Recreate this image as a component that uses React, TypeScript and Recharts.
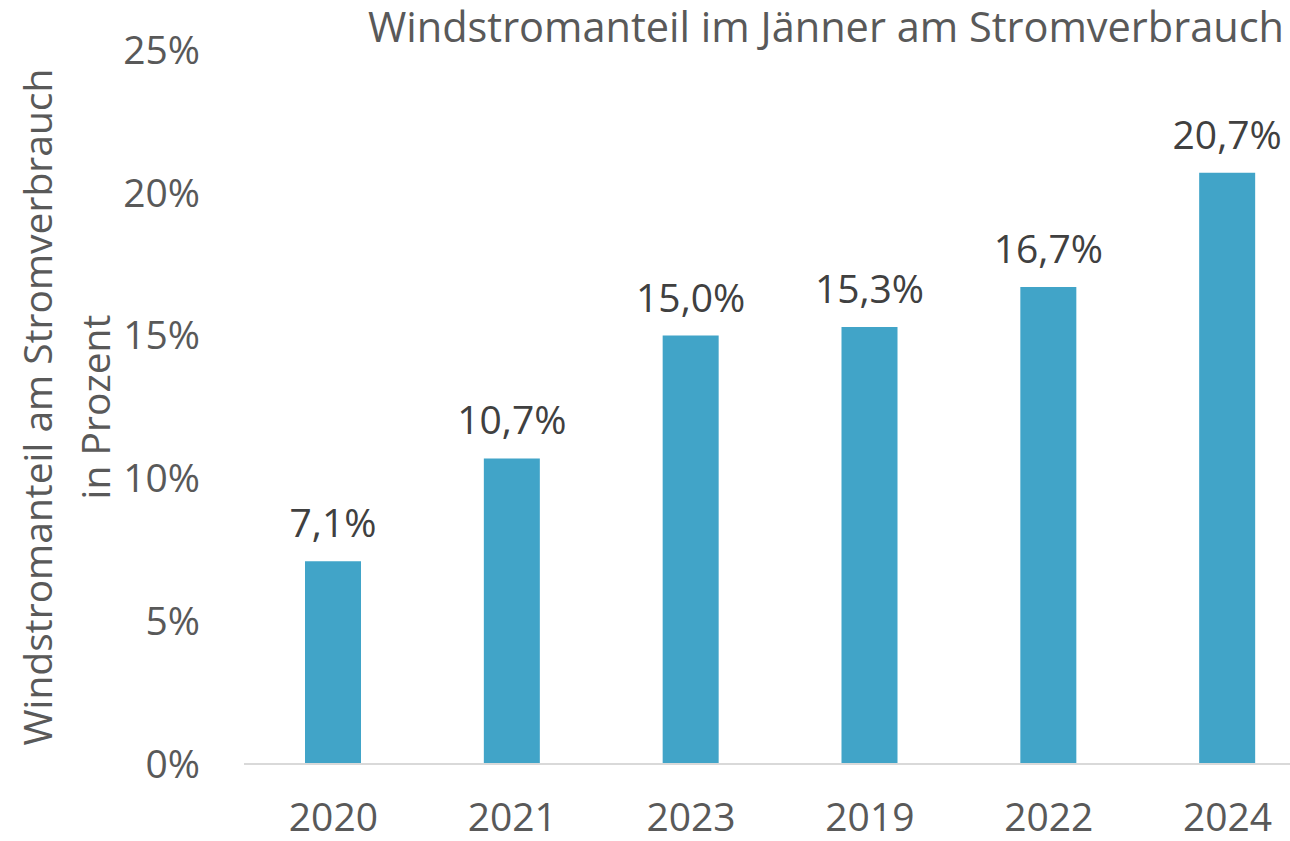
import React from 'react';
import { BarChart, Bar, XAxis, YAxis, LabelList } from 'recharts';

const years = ['2020', '2021', '2023', '2019', '2022', '2024'];
const windShare = [7.1, 10.7, 15.0, 15.3, 16.7, 20.7];
const yTicks = [0, 5, 10, 15, 20, 25];

const data = years.map((year, i) => ({ year, value: windShare[i] }));

const FONT = '"Open Sans", Lato, sans-serif';
const GREY = '#595959';

const fmtLabel = (v: any) => `${Number(v).toFixed(1).replace('.', ',')}%`;

export default function App() {
  return (
    <div
      style={{
        position: 'absolute',
        left: 0,
        top: 0,
        width: 1290,
        height: 841,
        overflow: 'hidden',
        background: '#fff',
        fontFamily: FONT,
      }}
    >
      <div
        style={{
          position: 'absolute',
          right: 6,
          top: 6,
          fontSize: 41.5,
          lineHeight: 1,
          color: GREY,
          whiteSpace: 'nowrap',
        }}
      >
        Windstromanteil im Jänner am Stromverbrauch
      </div>
      <svg
        width={140}
        height={841}
        style={{ position: 'absolute', left: 0, top: 0 }}
      >
        <text
          transform="translate(36,407) rotate(-90)"
          textAnchor="middle"
          dominantBaseline="central"
          fontSize={39}
          fill={GREY}
          fontFamily={FONT}
        >
          Windstromanteil am Stromverbrauch
        </text>
        <text
          transform="translate(94,407) rotate(-90)"
          textAnchor="middle"
          dominantBaseline="central"
          fontSize={39}
          fill={GREY}
          fontFamily={FONT}
        >
          in Prozent
        </text>
      </svg>
      <div style={{ position: 'absolute', left: 0, top: 0 }}>
        <BarChart
          width={1330}
          height={841}
          data={data}
          margin={{ top: 50, right: 13, bottom: 0, left: 0 }}
          barSize={56}
        >
          <XAxis
            dataKey="year"
            height={77}
            tickLine={false}
            tickSize={0}
            tickMargin={39}
            axisLine={{ stroke: '#d9d9d9', strokeWidth: 2 }}
            tick={{ fill: GREY, fontSize: 39, fontFamily: FONT }}
          />
          <YAxis
            width={244}
            domain={[0, 25]}
            ticks={yTicks}
            axisLine={false}
            tickLine={false}
            tickSize={0}
            tickMargin={44}
            tickFormatter={(v) => `${v}%`}
            tick={{ fill: GREY, fontSize: 39, fontFamily: FONT }}
          />
          <Bar dataKey="value" fill="#41a4c8" isAnimationActive={false}>
            <LabelList
              dataKey="value"
              position="top"
              offset={24}
              formatter={fmtLabel}
              fill="#404040"
              fontSize={39}
              fontFamily={FONT}
            />
          </Bar>
        </BarChart>
      </div>
    </div>
  );
}
